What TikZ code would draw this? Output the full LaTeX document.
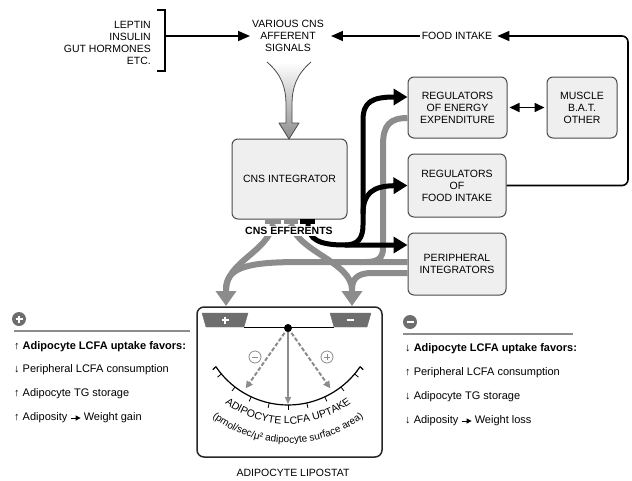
\documentclass[tikz,border=0pt]{standalone}
\usepackage{fontspec}
\setmainfont{Liberation Sans}
\usetikzlibrary{arrows.meta,positioning,calc,decorations.text}

\definecolor{boxfill}{HTML}{EFEFEF}
\definecolor{boxline}{HTML}{4A4A4A}
\definecolor{effgray}{HTML}{8C8C8C}
\definecolor{dialgray}{HTML}{6E6E6E}

\newcommand{\capsfont}{\fontsize{10.5}{12}\selectfont}
\newcommand{\listfont}{\fontsize{11}{13}\selectfont}
\newcommand{\arcfont}{\fontsize{10.5}{12}\selectfont}
\newcommand{\arcsmallfont}{\fontsize{10}{11}\selectfont}

\begin{document}
\begin{tikzpicture}[x=1pt, y=-1pt,
    regbox/.style={draw=boxline, fill=boxfill, rounded corners=6pt, line width=1pt, align=center, font=\capsfont, inner sep=2pt},
    caps/.style={font=\capsfont, align=center, inner sep=2pt},
    thinarrow/.style={line width=1.6pt, -{Triangle[length=12pt,width=10pt]}},
    blackarrow/.style={line width=5pt, -{Triangle[length=14pt,width=16pt]}},
    effline/.style={draw=effgray, line width=6pt},
    listitem/.style={font=\listfont, anchor=west, inner sep=0pt},
    smallarrow/.style={line width=1pt, shorten <=3pt, shorten >=3pt, -{Triangle[length=5pt,width=5pt]}},
  ]
    \useasboundingbox (0,0) rectangle (632,480);

    % Signals at the top
    \node[caps, align=right, anchor=east] (hormones) at (153,43) {LEPTIN\\INSULIN\\GUT HORMONES\\ETC.};
    \node[caps] (afferent) at (288,36) {VARIOUS CNS\\AFFERENT\\SIGNALS};
    \node[caps] (food) at (457,36) {FOOD INTAKE};

    % Bracket round the hormones
    \draw[line width=1.6pt] (157,10) -- (165,10) -- (165,71) -- (157,71);
    \coordinate (brkmid) at (165,36);
    \draw[thinarrow] (brkmid) -- (afferent.west);
    \draw[thinarrow, shorten >=5pt] (food.west) -- (afferent.east);

    % Boxes
    \node[regbox, minimum width=115pt, minimum height=80pt] (cns) at (289.5,179) {CNS INTEGRATOR};
    \node[regbox, minimum width=99pt, minimum height=61pt] (energy) at (457.5,107.5) {REGULATORS\\OF ENERGY\\EXPENDITURE};
    \node[regbox, minimum width=70pt, minimum height=61pt] (muscle) at (582,107.5) {MUSCLE\\B.A.T.\\OTHER};
    \node[regbox, minimum width=98pt, minimum height=63pt] (foodreg) at (457,185.5) {REGULATORS\\OF\\FOOD INTAKE};
    \node[regbox, minimum width=98pt, minimum height=62pt] (periph) at (457,264) {PERIPHERAL\\INTEGRATORS};
    \node[draw=black!85, fill=white, rounded corners=7pt, line width=1.5pt, minimum width=185pt, minimum height=150pt] (lipostat) at (289.5,382) {};
    \node[caps] (lipolabel) at (293,473) {ADIPOCYTE LIPOSTAT};

    % Food intake feedback loop and muscle link
    \draw[thinarrow, rounded corners=6pt, shorten >=3pt] (foodreg.east) -- (628,185.5) -- (628,36) -- (food.east);
    \draw[line width=1.6pt, {Triangle[length=10pt,width=9pt]}-{Triangle[length=10pt,width=9pt]}, shorten <=2pt, shorten >=2pt] (energy.east) -- (muscle.west);

    % Afferent funnel arrow into the integrator
    \shade[top color=white, bottom color=black!45] (267,62) .. controls (282,75) and (286,88) .. (286,105) -- (286,123) -- (279,123) -- (289,139) -- (299,123) -- (292,123) -- (292,105) .. controls (292,88) and (296,75) .. (311,62) -- cycle;
    \draw[line width=0.8pt, draw=black!70, line join=round] (267,62) .. controls (282,75) and (286,88) .. (286,105) -- (286,123) -- (279,123) -- (289,139) -- (299,123) -- (292,123) -- (292,105) .. controls (292,88) and (296,75) .. (311,62);

    % Efferent bars under the integrator
    \fill[effgray] (265,219) rectangle (281,224);
    \fill[effgray] (284,219) rectangle (298,224);
    \fill[black] (300,219) rectangle (315,224);
    \coordinate (effL) at (273,224);
    \coordinate (effR) at (291,224);
    \coordinate (effB) at (308,224);

    % Gray efferents to the lipostat
    \coordinate (plusin) at (226,290);
    \coordinate (plustip) at (226,306);
    \coordinate (minusin) at (352,290);
    \coordinate (minustip) at (352,306);
    \draw[effline] (effL) .. controls (268,252) and (226,262) .. (plusin);
    \draw[effline] (effR) .. controls (298,252) and (352,262) .. (minusin);
    \draw[effline] ([yshift=2pt]periph.west) -- (300,262) .. controls (245,262) and (226,268) .. (plusin);
    \draw[effline] ([yshift=-9pt]periph.west) -- (372,273) .. controls (356,273) and (352,280) .. (minusin);
    \draw[effline] ([yshift=-10.5pt]energy.west) .. controls (390,118) and (383,125) .. (383,145) -- (383,248) .. controls (383,258) and (378,262) .. (366,262);
    \draw[effline, -{Triangle[length=15pt,width=20pt]}] (plusin) -- (plustip);
    \draw[effline, -{Triangle[length=15pt,width=20pt]}] (minusin) -- (minustip);

    % Black efferents to the regulators
    \coordinate (fork) at (345,245);
    \draw[blackarrow] (effB) .. controls (308,240) and (320,245) .. (fork) -- ([yshift=19pt]periph.west);
    \draw[blackarrow] (fork) .. controls (358,245) and (363,238) .. (363,225) -- (363,120) .. controls (363,102) and (372,97) .. ([yshift=10.5pt]energy.west);
    \draw[blackarrow] (363,214) .. controls (363,194) and (372,186) .. (foodreg.west);

    \node[font=\capsfont\bfseries, fill=white, inner sep=1.5pt] (efferents) at (289,231) {CNS EFFERENTS};

    % Lipostat dial
    \filldraw[fill=dialgray, draw=dialgray] (202,313) -- (248,313) -- (244,327) -- (206,327) -- cycle;
    \filldraw[fill=dialgray, draw=dialgray] (330,313) -- (371,313) -- (367,327) -- (334,327) -- cycle;
    \draw[white, line width=1.3pt] (221.5,320) -- (228.5,320) (225,316.5) -- (225,323.5);
    \draw[white, line width=1.3pt] (346.5,320) -- (353.5,320);
    \draw[line width=0.8pt] (244,327) -- (334,327);

    \coordinate (dialc) at (288,318);
    \coordinate (pivot) at (288,328);
    \coordinate (dialL) at ($(dialc)+(146:87)$);
    \coordinate (dialR) at ($(dialc)+(34:87)$);
    \draw[line width=1.2pt] (dialL) arc[start angle=146, end angle=34, radius=87];
    \draw[line width=1.2pt] (dialL) -- ++(-3,3);
    \draw[line width=1.2pt] (dialR) -- ++(3,3);
    \foreach \a in {40,52.5,...,140}
        \draw[line width=0.8pt] ($(dialc)+(\a:87)$) -- ($(dialc)+(\a:92)$);

    % Pointers
    \draw[draw=effgray, line width=1.5pt, -{Triangle[length=7pt,width=6pt]}] (pivot) -- ($(dialc)+(90:86)$);
    \draw[draw=effgray, line width=2pt, dash pattern=on 4pt off 2pt, -{Triangle[length=7pt,width=7pt]}] (pivot) -- ($(dialc)+(121:82)$);
    \draw[draw=effgray, line width=2pt, dash pattern=on 4pt off 2pt, -{Triangle[length=7pt,width=7pt]}] (pivot) -- ($(dialc)+(59:82)$);
    \fill (pivot) circle (4);

    % Signs on the dial
    \draw[effgray, line width=0.8pt] (255,357) circle (6);
    \draw[effgray, line width=1pt] (252,357) -- (258,357);
    \draw[effgray, line width=0.8pt] (327,357) circle (6);
    \draw[effgray, line width=1pt] (324,357) -- (330,357) (327,354) -- (327,360);

    % Scale labels along the arc
    \path[decorate, decoration={text along path, text align=center, text={|\arcfont|ADIPOCYTE LCFA UPTAKE}}] ($(dialc)+(165:106)$) arc[start angle=165, end angle=15, radius=106];
    \path[decorate, decoration={text along path, text align=center, text={|\arcsmallfont|(pmol/sec/μ² adipocyte surface area)}}] ($(dialc)+(172:125)$) arc[start angle=172, end angle=8, radius=125];

    % Left panel: increased uptake
    \fill[dialgray] (19,319) circle (7);
    \draw[white, line width=1.6pt] (15.5,319) -- (22.5,319) (19,315.5) -- (19,322.5);
    \draw[effgray, line width=1.5pt] (14,331) -- (190,331);
    \node[listitem, font=\listfont\bfseries] (favorL) at (14,347) {↑ Adipocyte LCFA uptake favors:};
    \node[listitem] (periL) at (14,370) {↓ Peripheral LCFA consumption};
    \node[listitem] (storeL) at (14,394) {↑ Adipocyte TG storage};
    \node[listitem] (adipL) at (14,418) {↑ Adiposity};
    \node[listitem, right=16pt of adipL] (gainL) {Weight gain};
    \draw[smallarrow] (adipL) -- (gainL);

    % Right panel: decreased uptake
    \fill[dialgray] (410,322) circle (7);
    \draw[white, line width=1.6pt] (406.5,322) -- (413.5,322);
    \draw[effgray, line width=1.5pt] (403,334) -- (573,334);
    \node[listitem, font=\listfont\bfseries] (favorR) at (405,349) {↓ Adipocyte LCFA uptake favors:};
    \node[listitem] (periR) at (405,373) {↑ Peripheral LCFA consumption};
    \node[listitem] (storeR) at (405,397) {↓ Adipocyte TG storage};
    \node[listitem] (adipR) at (405,421) {↓ Adiposity};
    \node[listitem, right=16pt of adipR] (lossR) {Weight loss};
    \draw[smallarrow] (adipR) -- (lossR);

\end{tikzpicture}
\end{document}
